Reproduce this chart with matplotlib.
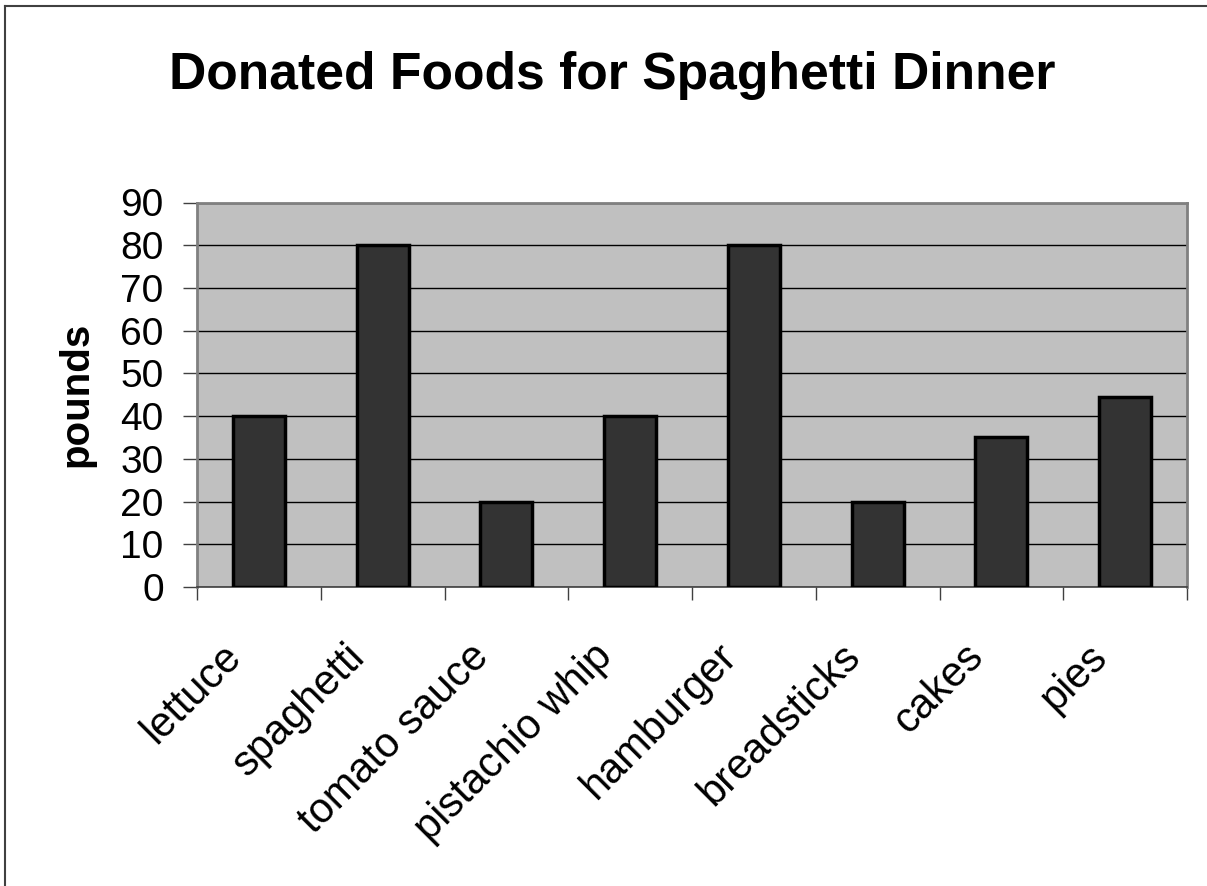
import matplotlib
matplotlib.use("Agg")
import matplotlib.pyplot as plt
from matplotlib.lines import Line2D
import numpy as np

categories = ["lettuce", "spaghetti", "tomato sauce", "pistachio whip",
              "hamburger", "breadsticks", "cakes", "pies"]
pounds = [40, 80, 20, 40, 80, 20, 35, 44.5]
yticks = [0, 10, 20, 30, 40, 50, 60, 70, 80, 90]

plt.rcParams['font.family'] = ['Liberation Sans', 'DejaVu Sans']

W, H = 1207, 886
fig = plt.figure(figsize=(W / 100, H / 100), dpi=100)
fig.patch.set_facecolor('white')

# outer border (left and top)
fig.add_artist(Line2D([4.5 / W, 4.5 / W], [0, 1 - 5.5 / H], transform=fig.transFigure,
                      color='#404040', lw=1.5))
fig.add_artist(Line2D([4.5 / W, 1], [1 - 5.5 / H, 1 - 5.5 / H], transform=fig.transFigure,
                      color='#404040', lw=1.5))

left, right, top, bottom = 197, 1187, 202.5, 587
ax = fig.add_axes([left / W, 1 - bottom / H, (right - left) / W, (bottom - top) / H])
ax.set_facecolor('#c0c0c0')

n = len(categories)
x = np.arange(n)
ax.bar(x, pounds, width=0.42, color='#333333', edgecolor='black', linewidth=2.5, zorder=3)

ax.set_xlim(-0.5, n - 0.5)
ax.set_ylim(0, 90)
ax.set_yticks(yticks)
ax.set_yticklabels([str(v) for v in yticks], fontsize=28)
ax.yaxis.grid(True, color='black', linewidth=1.0, zorder=1)
ax.set_axisbelow(True)

ax.set_xticks(np.arange(n + 1) - 0.5)
ax.set_xticklabels([])
ax.tick_params(axis='x', direction='out', length=9, width=1, color='#404040')
ax.tick_params(axis='y', direction='out', length=10, width=1, color='#404040', pad=14)

for s in ['left', 'right', 'top']:
    ax.spines[s].set_color('#808080')
    ax.spines[s].set_linewidth(2)
ax.spines['bottom'].set_color('#404040')
ax.spines['bottom'].set_linewidth(1.2)

for i, c in enumerate(categories):
    ax.annotate(c, xy=(i, 0), xycoords=('data', 'axes fraction'),
                xytext=(-17, -46), textcoords='offset points',
                rotation=45, rotation_mode='anchor', ha='right', va='center',
                fontsize=30)

ax.set_ylabel('pounds', fontsize=29, fontweight='bold', labelpad=18)

fig.text(612 / W, 1 - 76 / H, 'Donated Foods for Spaghetti Dinner',
         ha='center', va='center', fontsize=37.2, fontweight='bold')

fig.savefig('out.png', dpi=100)
